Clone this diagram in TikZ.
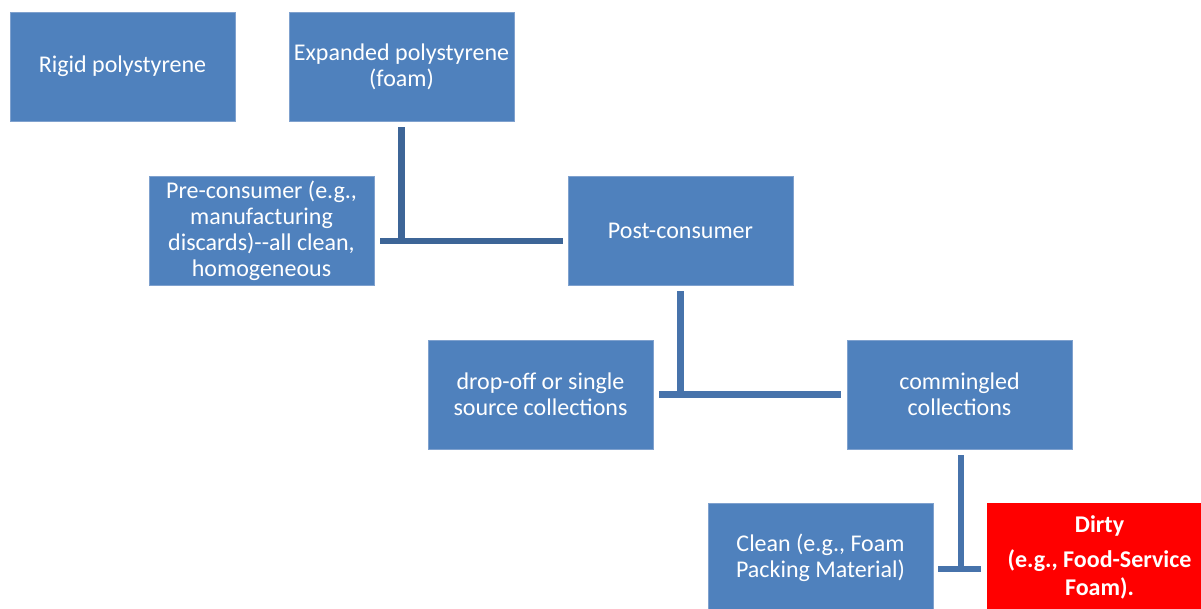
\documentclass[tikz,border=0pt]{standalone}
\usepackage{fontspec}
\setmainfont{Carlito}
\begin{document}
\begin{tikzpicture}[x=1pt,y=-1pt,
  box/.style={rectangle, fill=boxblue, draw=boxedge, line width=0.6pt, minimum width=225pt, minimum height=109pt, inner sep=0pt, align=center, text=white, font=\fontsize{24}{26}\selectfont},
  conna/.style={draw=lineA, line width=6.5pt},
  connb/.style={draw=lineB, line width=6.5pt}]
\definecolor{boxblue}{HTML}{4F81BD}
\definecolor{boxedge}{HTML}{7FA1CE}
\definecolor{lineA}{HTML}{3D6597}
\definecolor{lineB}{HTML}{4773AB}
\definecolor{dirtyred}{HTML}{FF0000}
\useasboundingbox (0,0) rectangle (1201,608);
\begin{scope}
\clip (0,0) rectangle (1201,608);
\node[box] (rigid) at (122.5,66.5) {Rigid polystyrene};
\node[box] (eps) at (401.5,66.5) {Expanded polystyrene\\(foam)};
\node[box] (pre) at (261.5,230.5) {Pre-consumer (e.g.,\\manufacturing\\discards)-{}-all clean,\\homogeneous};
\node[box] (post) at (680.5,230.5) {Post-consumer};
\node[box] (drop) at (540.5,394.5) {drop-off or single\\source collections};
\node[box] (comm) at (959.5,394.5) {commingled\\collections};
\node[box] (clean) at (820.5,557.5) {Clean (e.g., Foam\\Packing Material)};
\node[box, fill=dirtyred, draw=dirtyred, font=\fontsize{24}{28}\bfseries\selectfont] (dirty) at (1099.5,557.5) {Dirty\\[7pt](e.g., Food-Service\\Foam).};
\end{scope}
% connectors
\draw[conna] ([yshift=-6]eps.south) -- ([yshift=-10.5]eps.south |- pre.east);
\draw[conna] ([xshift=6,yshift=-10.5]pre.east) -- ([xshift=-5,yshift=-10.5]post.west);
\draw[connb] ([yshift=-6]post.south) -- ([yshift=-3]post.south |- drop.east);
\draw[connb] ([xshift=6]drop.east) -- ([xshift=-6]comm.west);
\draw[connb] ([yshift=-6,xshift=1.5]comm.south) -- ([xshift=1.5,yshift=-14.5]comm.south |- clean.east);
\draw[connb] ([xshift=5,yshift=-11.5]clean.east) -- ([xshift=-6,yshift=-11.5]dirty.west);
\end{tikzpicture}
\end{document}
